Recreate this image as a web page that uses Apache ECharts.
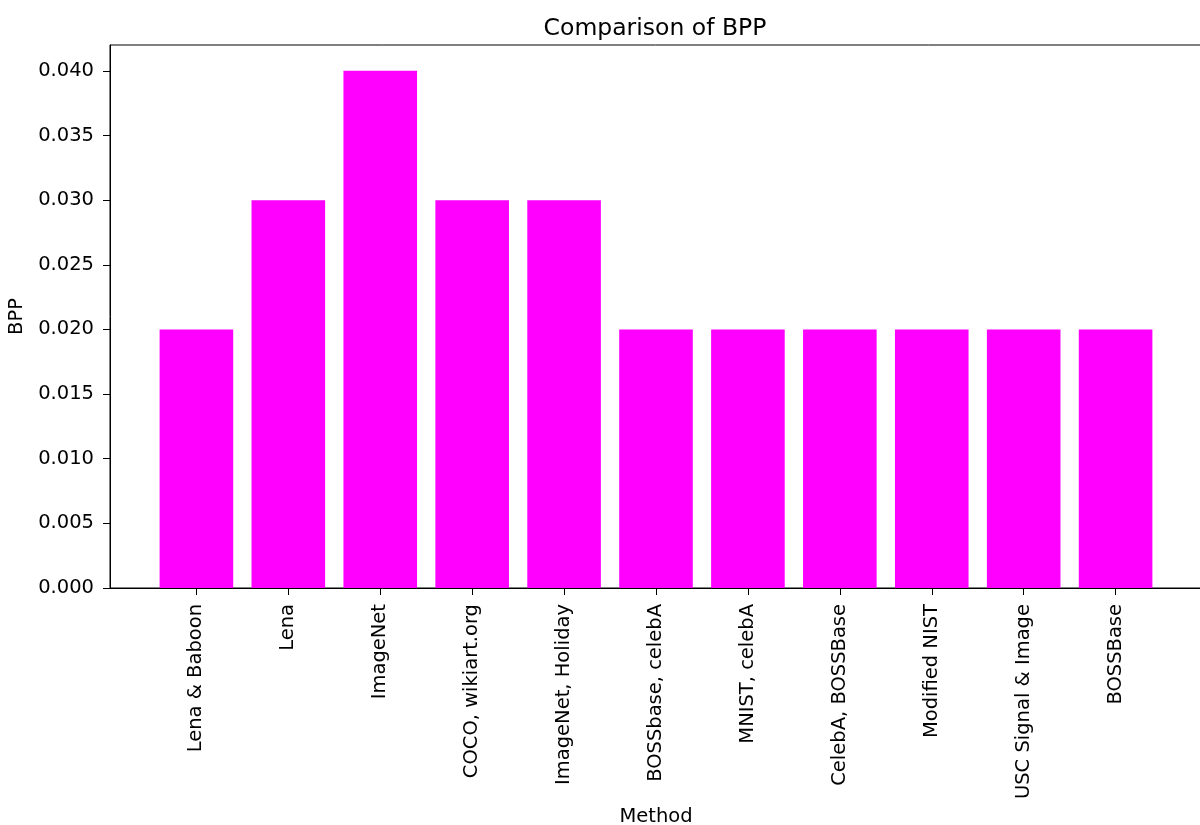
<!DOCTYPE html>
<html>
<head>
<meta charset="utf-8">
<script src="https://cdn.jsdelivr.net/npm/echarts@6/dist/echarts.min.js"></script>
<style>
  html, body { margin: 0; padding: 0; background: #fff; }
  #chart { width: 1200px; height: 825px; }
</style>
</head>
<body>
<div id="chart"></div>
<script>
var categories = ['Lena & Baboon', 'Lena', 'ImageNet', 'COCO, wikiart.org', 'ImageNet, Holiday',
    'BOSSbase, celebA', 'MNIST, celebA', 'CelebA, BOSSBase', 'Modified NIST', 'USC Signal & Image', 'BOSSBase'];
var bppValues = [0.02, 0.03, 0.04, 0.03, 0.03, 0.02, 0.02, 0.02, 0.02, 0.02, 0.02];
var yTicks = [0, 0.005, 0.01, 0.015, 0.02, 0.025, 0.03, 0.035, 0.04];
var xTicks = categories.map(function (c, i) { return i; });

var font = 'DejaVu Sans';
var chart = echarts.init(document.getElementById('chart'));

chart.setOption({
    backgroundColor: '#fff',
    animation: false,
    title: {
        text: 'Comparison of BPP',
        left: 655,
        top: 17,
        padding: 0,
        textAlign: 'center',
        textStyle: { fontFamily: font, fontSize: 23.5, fontWeight: 'normal', color: '#000' }
    },
    grid: {
        left: 110,
        top: 45,
        width: 1092,
        height: 543,
        containLabel: false,
        outerBoundsMode: 'none',
        show: true,
        borderColor: '#000',
        borderWidth: 1,
        backgroundColor: 'transparent'
    },
    xAxis: {
        type: 'value',
        min: -0.94,
        max: 10.94,
        name: 'Method',
        nameLocation: 'middle',
        nameGap: 214,
        nameTextStyle: { fontFamily: font, fontSize: 19.5, color: '#000' },
        splitLine: { show: false },
        axisLine: { show: true, onZero: false, lineStyle: { color: '#000', width: 1 } },
        axisTick: { show: true, length: 7, customValues: xTicks, lineStyle: { color: '#000' } },
        axisLabel: {
            customValues: xTicks,
            rotate: 90,
            margin: 16,
            fontFamily: font,
            fontSize: 19.5,
            color: '#000',
            formatter: function (v) { return categories[Math.round(v)]; }
        }
    },
    yAxis: {
        type: 'value',
        min: 0,
        max: 0.042,
        name: 'BPP',
        nameLocation: 'middle',
        nameGap: 76,
        nameRotate: 90,
        nameTextStyle: { fontFamily: font, fontSize: 19.5, color: '#000' },
        splitLine: { show: false },
        axisLine: { show: true, onZero: false, lineStyle: { color: '#000', width: 1 } },
        axisTick: { show: true, length: 7, customValues: yTicks, lineStyle: { color: '#000' } },
        axisLabel: {
            customValues: yTicks,
            margin: 16,
            fontFamily: font,
            fontSize: 19.5,
            color: '#000',
            formatter: function (v) { return v.toFixed(3); }
        }
    },
    series: [{
        type: 'bar',
        barWidth: 73.6,
        itemStyle: { color: '#ff00ff' },
        data: bppValues.map(function (v, i) { return [i, v]; })
    }]
});
</script>
</body>
</html>
